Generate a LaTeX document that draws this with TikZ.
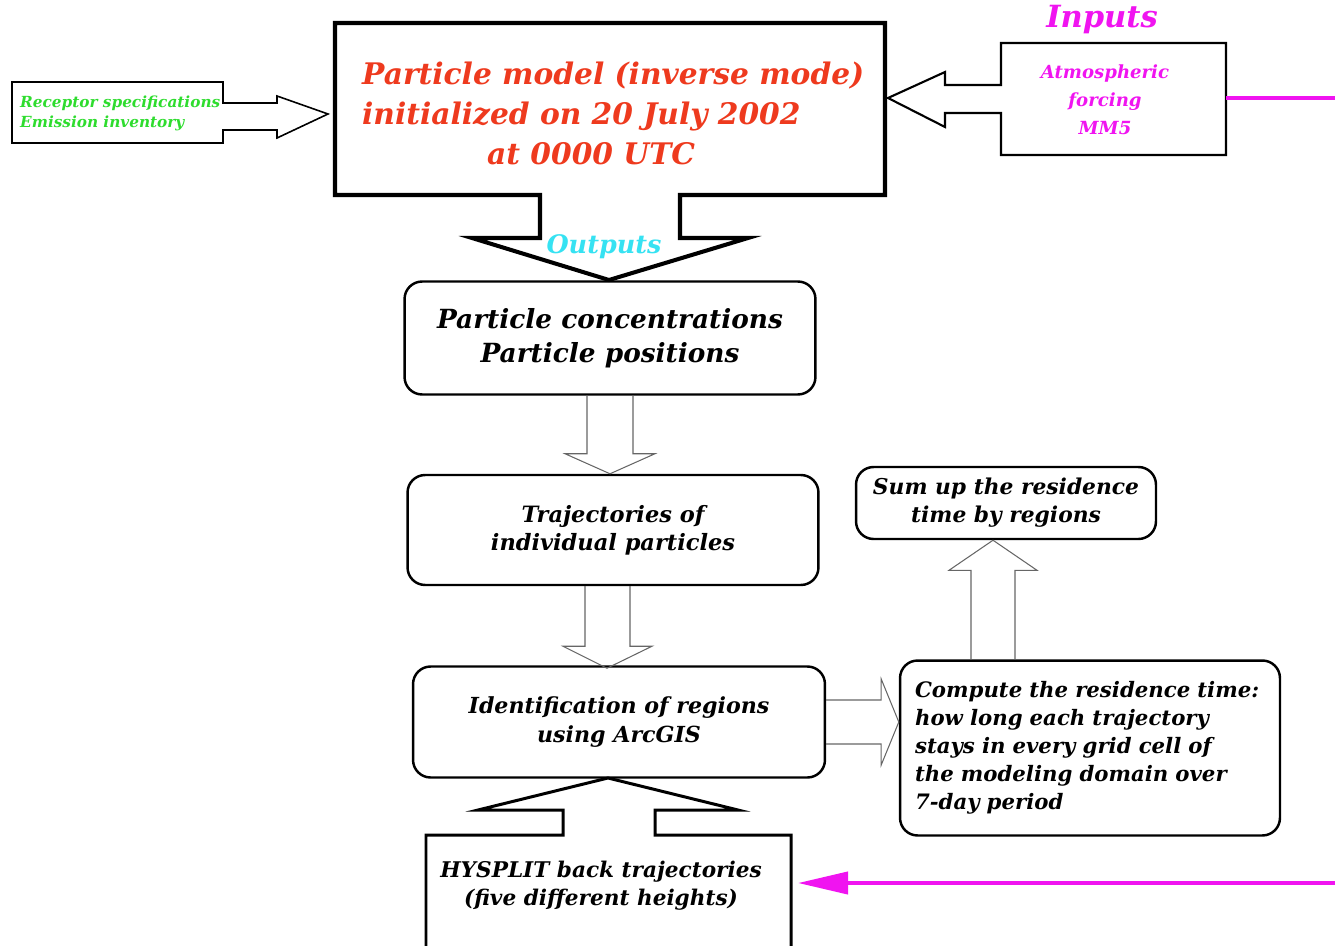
\documentclass[tikz,border=0pt]{standalone}
\usepackage{fontspec}
\setmainfont{DejaVu Serif}
\usetikzlibrary{calc,arrows.meta}

\definecolor{titlered}{HTML}{EE3A1E}
\definecolor{recgreen}{HTML}{2EDC2E}
\definecolor{feedpink}{HTML}{F014F0}
\definecolor{outcyan}{HTML}{36E2F2}

\begin{document}
\begin{tikzpicture}[x=0.02cm,y=-0.02cm,
  box/.style={draw,rounded corners=10pt,line width=1.4pt,align=center,inner sep=0pt},
  hollow/.style={draw=black!60,line width=0.6pt},
  feed/.style={draw=feedpink,line width=2.3pt},
  txt/.style 2 args={font=\bfseries\itshape\fontsize{#1}{#2}\selectfont}]
\useasboundingbox (0,0) rectangle (1335,946);
\clip (0,0) rectangle (1335,946);

% model box with its outgoing block arrow
\draw[line width=2.3pt] (335,23) -- (885,23) -- (885,195) -- (680,195) -- (680,238) -- (748,238) -- (609,280) -- (472,238) -- (540,238) -- (540,195) -- (335,195) -- cycle;
\node (model) [anchor=west,align=left,text=titlered,txt={16.9}{22.8}] at (356,113) {Particle model (inverse mode)\\initialized on 20 July 2002\\\hspace*{2.5cm}at 0000 UTC};
\node (outputs) [text=outcyan,txt={14.5}{17}] at (604,247) {Outputs};

% receptor input
\draw[line width=0.9pt] (12,82) -- (223,82) -- (223,103) -- (277,103) -- (277,96) -- (328,114) -- (277,138) -- (277,130) -- (223,130) -- (223,143) -- (12,143) -- cycle;
\node (recep) [anchor=west,align=left,text=recgreen,txt={8.7}{11.4}] at (14,113) {Receptor specifications\\Emission inventory};

% meteorological input
\draw[line width=1.2pt] (1001,85) -- (1001,43) -- (1226,43) -- (1226,155) -- (1001,155) -- (1001,113) -- (945,113) -- (945,127) -- (888,98) -- (945,72) -- (945,85) -- cycle;
\node (inputs) [text=feedpink,txt={17.4}{20}] at (1102,20) {Inputs};
\node (atm) [align=center,text=feedpink,txt={10.3}{16}] at (1105,100) {Atmospheric\\forcing\\MM5};
\coordinate (atmR) at (1226,98);

% outputs chain
\node (pc) [box,minimum width=8.22cm,minimum height=2.26cm,txt={15}{19.3}] at (610,338) {Particle concentrations\\Particle positions};
\node (traj) [box,minimum width=8.22cm,minimum height=2.2cm,txt={12.8}{16}] at (613,530) {Trajectories of\\individual particles};
\node (ident) [box,minimum width=8.24cm,minimum height=2.22cm,txt={12.6}{16}] at (619,722) {Identification of regions\\using ArcGIS};
\node (comp) [box,minimum width=7.6cm,minimum height=3.5cm,text width=7.0cm,align=left,txt={12.1}{16}] at (1090,748) {Compute the residence time:\\how long each trajectory\\stays in every grid cell of\\the modeling domain over\\7-day period};
\node (sum) [box,minimum width=6cm,minimum height=1.44cm,txt={12.4}{16}] at (1006,503) {Sum up the residence\\time by regions};

\draw[hollow] ($(pc.south)+(-23,0)$) -- ++(0,58) -- ++(-22,0) -- (pc.south |- traj.north) -- ($(pc.south)+(45,58)$) -- ++(-22,0) -- ($(pc.south)+(23,0)$);
\draw[hollow] ($(traj.south)+(-28,0)$) -- ++(0,60) -- ++(-22,0) -- ($(traj.south)+(-6,82)$) -- ($(traj.south)+(39,60)$) -- ++(-22,0) -- ($(traj.south)+(17,0)$);
\draw[hollow] ($(ident.east)+(0,-22)$) -- ++(55,0) -- ++(0,-21) -- (ident.east -| comp.west) -- ($(ident.east)+(55,43)$) -- ++(0,-21) -- ($(ident.east)+(0,22)$);
\coordinate (lift) at ($(comp.north)+(-97,0)$);
\draw[hollow] ($(lift)+(-22,0)$) -- ++(0,-89) -- ++(-22,0) -- (lift |- sum.south) -- ($(lift)+(44,-89)$) -- ++(-22,0) -- ($(lift)+(22,0)$);

% back trajectories
\draw[line width=1.7pt] (426,960) -- (426,835) -- (563,835) -- (563,810) -- (478,810) -- (608,778) -- (738,810) -- (655,810) -- (655,835) -- (791,835) -- (791,960);
\node (hys) [align=center,txt={12.3}{16}] at (601,886) {HYSPLIT back trajectories\\(five different heights)};
\coordinate (hysR) at (798,883);

\draw[feed,-{Triangle[length=1.0cm,width=0.44cm]}] (atmR) -- (1345,98) -- (1345,883) -- (hysR);
\end{tikzpicture}
\end{document}
